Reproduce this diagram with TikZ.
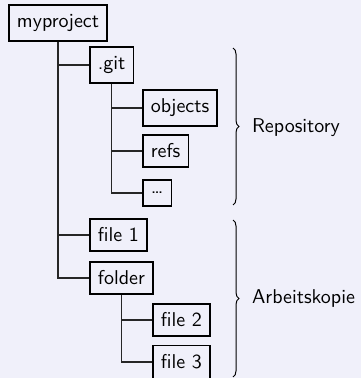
\documentclass[tikz,border=0pt]{standalone}
\usetikzlibrary{decorations.pathreplacing}
\definecolor{bgcol}{RGB}{240,240,250}

\tikzset{
  dirbox/.style={draw,line width=0.9pt,inner xsep=4pt,inner ysep=4.6pt,minimum height=13pt,anchor=west,font=\sffamily},
  branch/.style={line width=0.6pt,black!85},
  curly/.style={decorate,decoration={brace,amplitude=3pt},line width=0.5pt},
  label/.style={anchor=west,font=\sffamily}
}

\begin{document}
\begin{tikzpicture}[x=0.5pt,y=-0.5pt]
\fill[bgcol] (0,0) rectangle (361,378);
\useasboundingbox (0,0) rectangle (361,378);
% tree
\node[dirbox,anchor=center] (root) at (58,23) {myproject};
\node[dirbox] (git) at (89,65) {.git};
\draw[branch] (root.south) |- (git.west);
\foreach \name/\txt/\y in {objects/objects/108,refs/refs/151,dots/\ldots/193} {
  \node[dirbox] (\name) at (142,\y) {\txt};
  \draw[branch] (git.south) |- (\name.west);
}
\node[dirbox] (file1) at (89,235) {file 1};
\node[dirbox] (folder) at (89,278) {folder};
\draw[branch] (root.south) |- (file1.west);
\draw[branch] (root.south) |- (folder.west);
\foreach \name/\txt/\y in {file2/file 2/320,file3/file 3/362} {
  \node[dirbox] (\name) at (152,\y) {\txt};
  \draw[branch] (folder.south) |- (\name.west);
}
% braces
\draw[curly] (233,48) -- (233,205);
\node[label] (repo) at (245,128) {Repository};
\draw[curly] (233,220) -- (233,377);
\node[label] (work) at (245,298) {Arbeitskopie};
\end{tikzpicture}
\end{document}
